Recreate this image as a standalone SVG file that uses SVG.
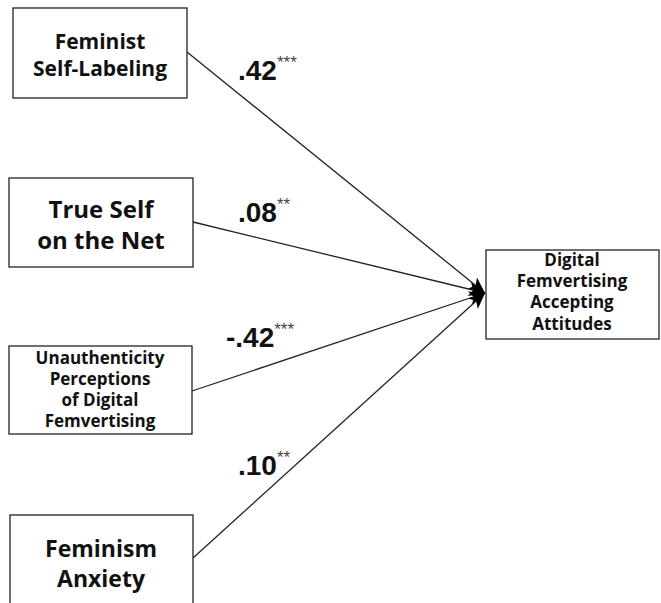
<svg xmlns="http://www.w3.org/2000/svg" width="661" height="603" viewBox="0 0 661 603">
<style>
.box{fill:#fff;stroke:#222;stroke-width:1.3}
.t{font-family:"Open Sans","Noto Sans","Liberation Sans",sans-serif;font-weight:bold;fill:#111;text-anchor:middle}
.lab{font-family:"Liberation Sans",Arial,sans-serif;font-weight:bold;fill:#111;font-size:28px}
.sup{font-size:17px;fill:#444;font-weight:normal}
.ln{stroke:#222;stroke-width:1.3;fill:none;marker-end:url(#ah)}
</style>
<defs>
<marker id="ah" markerUnits="userSpaceOnUse" markerWidth="18" markerHeight="16" refX="16" refY="8" orient="auto">
<path d="M0,1 L16,8 L0,15 L4,8 z" fill="#000"/>
</marker>
</defs>
<rect width="661" height="603" fill="#fff"/>
<g id="connectors">
<line class="ln" x1="187" y1="52" x2="485" y2="293"/>
<line class="ln" x1="193" y1="222" x2="485" y2="293"/>
<line class="ln" x1="192" y1="391" x2="485" y2="293"/>
<line class="ln" x1="193" y1="558" x2="485" y2="293"/>
<text class="lab" x="238" y="80">.42<tspan class="sup" dy="-12">***</tspan></text>
<text class="lab" x="238" y="222">.08<tspan class="sup" dy="-12">**</tspan></text>
<text class="lab" x="226" y="347">-.42<tspan class="sup" dy="-12">***</tspan></text>
<text class="lab" x="238" y="475">.10<tspan class="sup" dy="-12">**</tspan></text>
</g>
<g id="n1">
<rect class="box" x="13" y="8" width="174" height="90"/>
<text class="t" x="100" y="49" font-size="21">Feminist</text>
<text class="t" x="100" y="76" font-size="21">Self-Labeling</text>
</g>
<g id="n2">
<rect class="box" x="9" y="178" width="184" height="89"/>
<text class="t" x="101" y="218" font-size="24">True Self</text>
<text class="t" x="101" y="249" font-size="24">on the Net</text>
</g>
<g id="n3">
<rect class="box" x="9" y="346" width="183" height="88"/>
<text class="t" x="100" y="364" font-size="17">Unauthenticity</text>
<text class="t" x="100" y="385" font-size="17">Perceptions</text>
<text class="t" x="100" y="406" font-size="17">of Digital</text>
<text class="t" x="100" y="427" font-size="17">Femvertising</text>
</g>
<g id="n4">
<rect class="box" x="10" y="515" width="183" height="100"/>
<text class="t" x="101" y="557" font-size="23">Feminism</text>
<text class="t" x="101" y="587" font-size="23">Anxiety</text>
</g>
<g id="n5">
<rect class="box" x="486" y="250" width="173" height="89"/>
<text class="t" x="572" y="266" font-size="17">Digital</text>
<text class="t" x="572" y="287" font-size="17">Femvertising</text>
<text class="t" x="572" y="308" font-size="17">Accepting</text>
<text class="t" x="572" y="330" font-size="17">Attitudes</text>
</g>
</svg>
